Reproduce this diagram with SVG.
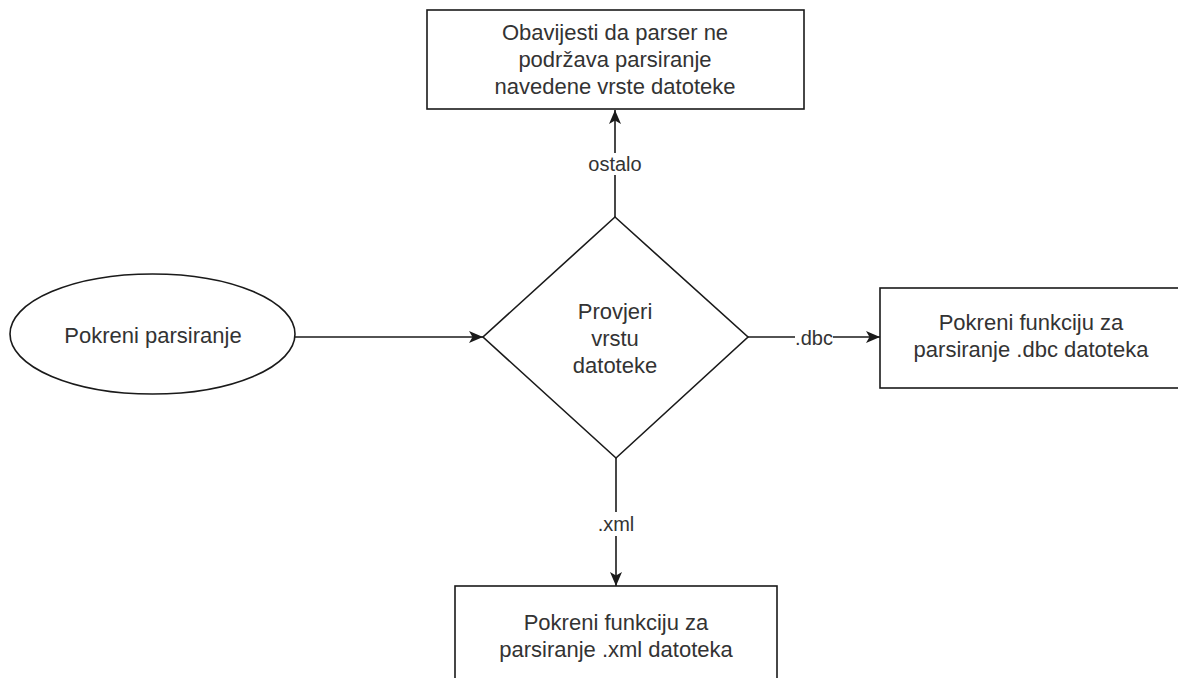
<svg xmlns="http://www.w3.org/2000/svg" width="1178" height="678" viewBox="0 0 1178 678">
  <defs>
    <style>
      .shape { fill: #ffffff; stroke: #1a1a1a; stroke-width: 1.6; }
      .edge { fill: none; stroke: #1a1a1a; stroke-width: 1.6; }
      .txt { font-family: "Liberation Sans", Arial, sans-serif; font-size: 22px; fill: #333333; text-anchor: middle; }
      .lbl { font-family: "Liberation Sans", Arial, sans-serif; font-size: 20px; fill: #333333; text-anchor: middle; }
      .lblbg { fill: #ffffff; stroke: none; }
    </style>
    <marker id="arrow" markerUnits="userSpaceOnUse" markerWidth="16" markerHeight="14" refX="14" refY="7" orient="auto">
      <path d="M0,1 L14,7 L0,13 L3.5,7 Z" fill="#1a1a1a"/>
    </marker>
  </defs>
  <rect width="1178" height="678" fill="#ffffff"/>

  <g id="connectors">
    <line class="edge" x1="295" y1="337" x2="483" y2="337" marker-end="url(#arrow)"/>
    <line class="edge" x1="615" y1="217" x2="615" y2="110" marker-end="url(#arrow)"/>
    <line class="edge" x1="748" y1="337" x2="880" y2="337" marker-end="url(#arrow)"/>
    <line class="edge" x1="616" y1="458" x2="616" y2="586" marker-end="url(#arrow)"/>
    <rect class="lblbg" x="586" y="153" width="60" height="22"/>
    <text class="lbl" x="615" y="171">ostalo</text>
    <rect class="lblbg" x="795" y="328" width="38" height="20"/>
    <text class="lbl" x="814" y="345">.dbc</text>
    <rect class="lblbg" x="596" y="512" width="40" height="24"/>
    <text class="lbl" x="616" y="531">.xml</text>
  </g>

  <g id="node-start">
    <ellipse class="shape" cx="152.5" cy="334" rx="142.5" ry="60"/>
    <text class="txt" x="153" y="343">Pokreni parsiranje</text>
  </g>

  <g id="node-decision">
    <polygon class="shape" points="615,217 748,337 616,458 483,337"/>
    <text class="txt" x="615" y="319">Provjeri</text>
    <text class="txt" x="615" y="346">vrstu</text>
    <text class="txt" x="615" y="373">datoteke</text>
  </g>

  <g id="node-other">
    <rect class="shape" x="427" y="10" width="377" height="99"/>
    <text class="txt" x="615" y="40">Obavijesti da parser ne</text>
    <text class="txt" x="615" y="67">podržava parsiranje</text>
    <text class="txt" x="615" y="94">navedene vrste datoteke</text>
  </g>

  <g id="node-dbc">
    <rect class="shape" x="880" y="288" width="302" height="100"/>
    <text class="txt" x="1031" y="330">Pokreni funkciju za</text>
    <text class="txt" x="1031" y="357">parsiranje .dbc datoteka</text>
  </g>

  <g id="node-xml">
    <rect class="shape" x="455" y="586" width="322" height="100"/>
    <text class="txt" x="616" y="630">Pokreni funkciju za</text>
    <text class="txt" x="616" y="657">parsiranje .xml datoteka</text>
  </g>
</svg>
